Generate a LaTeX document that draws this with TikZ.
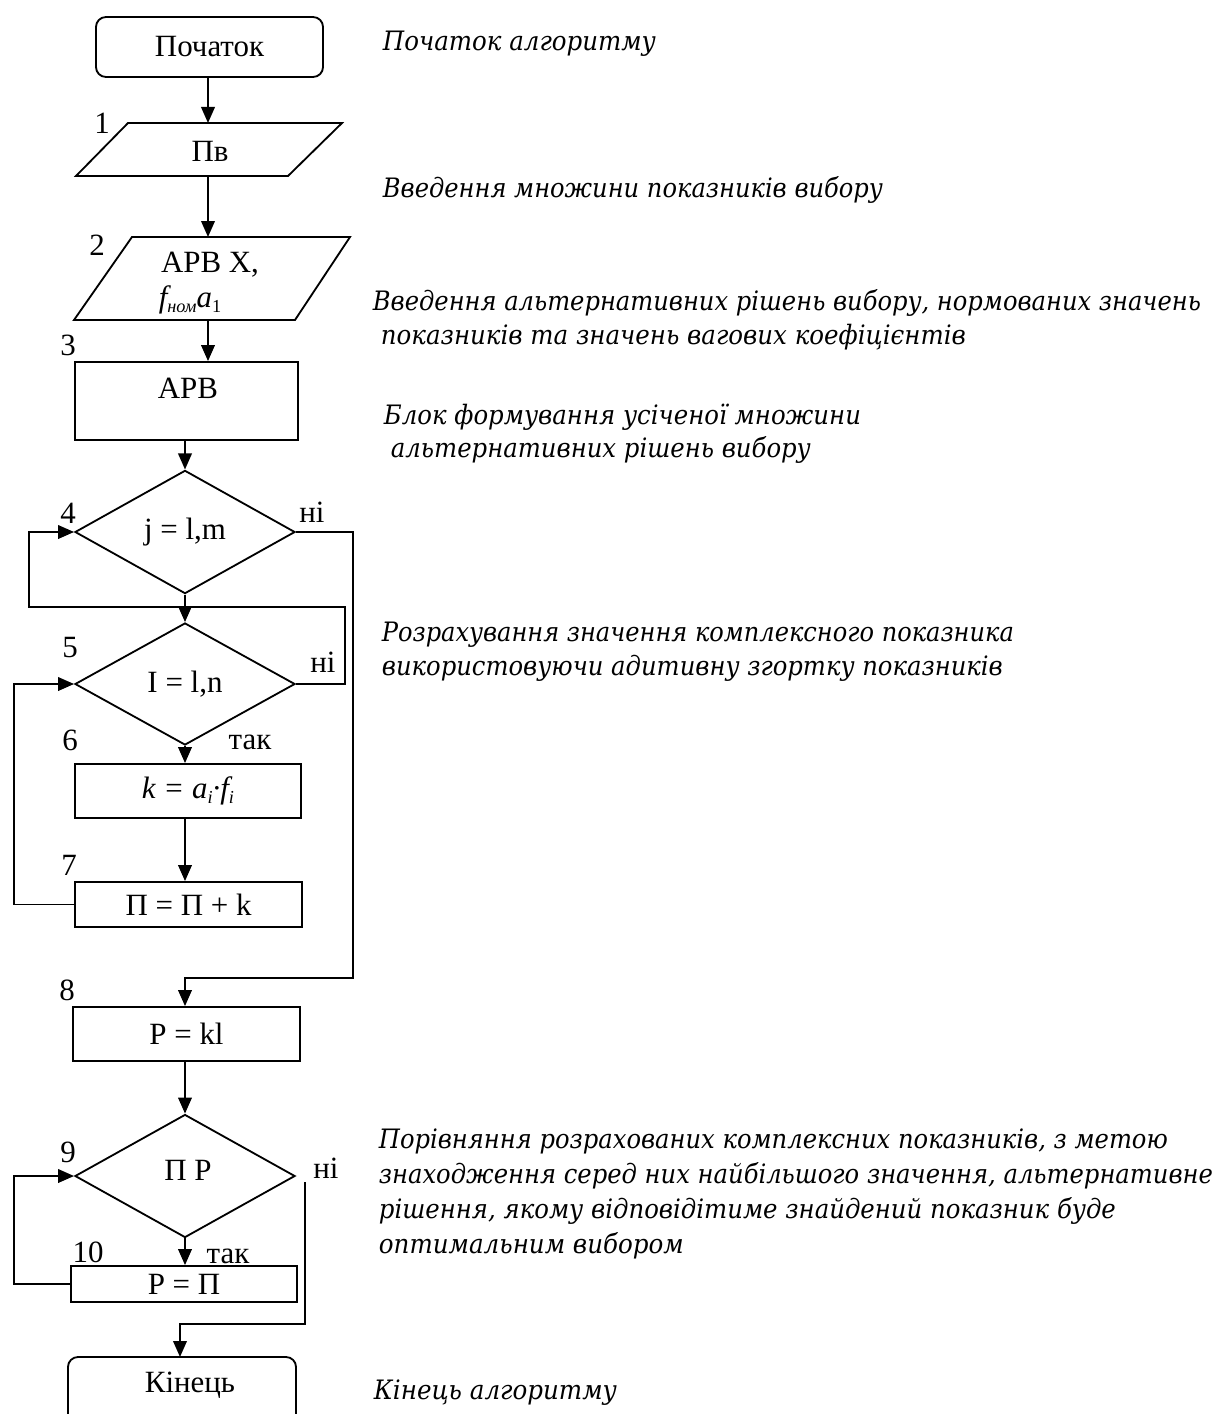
\documentclass[tikz,border=0pt]{standalone}
\usepackage{fontspec}
\setmainfont{Liberation Serif}
\newfontfamily\notefont{DejaVu Serif}
\usepackage{graphicx}
\usetikzlibrary{shapes.geometric,arrows.meta,calc}
\newlength\pxu
\setlength\pxu{0.025cm}
\newcommand\fitw[2]{\resizebox{#1\pxu}{\height}{#2}}
\newcommand\sbs[1]{\raisebox{-0.35ex}{\fontsize{13pt}{14pt}\selectfont #1}}
\begin{document}
\begin{tikzpicture}[x=0.025cm,y=-0.025cm, line width=1.3pt,
  every node/.style={font=\fontsize{22pt}{25pt}\selectfont, inner sep=0pt},
  arr/.style={-{Triangle[length=0.4cm,width=0.34cm]}},
  blk/.style={draw, rectangle, inner sep=0pt},
  term/.style={draw, rectangle, rounded corners=0.25cm, inner sep=0pt},
  dec/.style={draw, diamond, inner sep=0pt, minimum width=5.5cm, minimum height=3.08cm},
  note/.style={anchor=base west, inner sep=0pt, font=\fontsize{19pt}{22pt}\selectfont\notefont\itshape},
]
\useasboundingbox (0,0) rectangle (1215,1414);
\clip (0,0) rectangle (1215,1414);

% start
\node[term, minimum width=5.675cm, minimum height=1.5cm] (start) at (209.5,47) {Початок};

% block 1 (input)
\draw (128,123) -- (342,123) -- (288,176) -- (76,176) -- cycle;
\node (pv) at (210,151) {Пв};
\coordinate (p1n) at (208,123);
\coordinate (p1s) at (208,176);

% block 2 (input)
\draw (132,237) -- (350,237) -- (295,320) -- (74,320) -- cycle;
\node (arvx) at (210,265) {АРВ Х,};
\node (fnom) at (190,300) {{\itshape f}\sbs{\itshape ном}{\itshape a}\sbs{1}};
\coordinate (p2n) at (208,237);
\coordinate (p2s) at (208,320);

% block 3
\node[blk, minimum width=5.575cm, minimum height=1.95cm] (r3) at (186.5,401) {};
\node (t3) at (188,388) {АРВ};

% decisions and blocks
\node[dec] (d4) at (185,532) {j = l,m};
\node[dec, minimum height=3.05cm] (d5) at (185,684) {I = l,n};
\node[blk, minimum width=5.65cm, minimum height=1.35cm] (r6) at (188,791)
  {{\itshape k = a}\sbs{\itshape i}{\itshape ·f}\sbs{\itshape i}};
\node[blk, minimum width=5.675cm, minimum height=1.125cm] (r7) at (188.5,904.5) {П = П + k};
\node[blk, minimum width=5.675cm, minimum height=1.35cm] (r8) at (186.5,1034) {P = kl};
\node[dec, minimum height=3.075cm] (d9) at (185,1176) {};
\node (t9) at (188,1170) {П Р};
\node[blk, minimum width=5.65cm, minimum height=0.9cm] (r10) at (184,1284) {P = П};
\node[term, minimum width=5.7cm, minimum height=1.9cm] (end) at (182,1395) {};
\node (tend) at (190,1385) {Кінець};

% numbers
\node (n1) at (102,123) {1};
\node (n2) at (97,245) {2};
\node (n3) at (68,345) {3};
\node (n4) at (68,513) {4};
\node (n5) at (70,648) {5};
\node (n6) at (70,740) {6};
\node (n7) at (69,865) {7};
\node (n8) at (67,990) {8};
\node (n9) at (68,1152) {9};
\node (n10) at (88,1252) {10};

% branch labels
\node (ni4) at (312,512) {ні};
\node (ni5) at (323,662) {ні};
\node (tak5) at (250,742) {так};
\node (ni9) at (326,1168) {ні};
\node (tak9) at (228,1256) {так};

% connectors
\draw[arr] (start.south -| p1n) -- (p1n);
\draw[arr] (p1s) -- (p2n);
\draw[arr] (p2s) -- (p2s |- r3.north);
\draw[arr] (d4.north |- r3.south) -- (d4.north);
\draw[arr] (d4.south) -- (d5.north);
\draw[arr] (d5.east) -- (345,684) |- (29,607) |- (d4.west);
\draw[arr] (d4.east) -- (353,532) -- (353,978) -| (r8.north -| d4.south);
\draw[arr] (d5.south) -- (d5.south |- r6.north);
\draw[arr] (r6.south -| d4.south) -- (r7.north -| d4.south);
\draw[arr] (r7.west) -| (14,684) -- (d5.west);
\draw[arr] (r8.south -| d4.south) -- (d9.north);
\draw[arr] (d9.south) -- (d9.south |- r10.north);
\draw[arr] (r10.west) -| (14,1176) -- (d9.west);
\coordinate (ni9s) at (305,1182);
\draw[arr] (ni9s) -- (305,1324) -| (180,1357);

% notes
\node[note] (c1) at (382,50) {\fitw{273}{Початок алгоритму}};
\node[note] (c2) at (382,197) {\fitw{500}{Введення множини показників вибору}};
\node[note] (c3a) at (372,310) {\fitw{828}{Введення альтернативних рішень вибору, нормованих значень}};
\node[note] (c3b) at (380,344) {\fitw{585}{показників та значень вагових коефіцієнтів}};
\node[note] (c4a) at (383,424) {\fitw{477}{Блок формування усіченої множини}};
\node[note] (c4b) at (390,457) {\fitw{420}{альтернативних рішень вибору}};
\node[note] (c5a) at (381,641) {\fitw{632}{Розрахування значення комплексного показника}};
\node[note] (c5b) at (381,675) {\fitw{621}{використовуючи адитивну згортку показників}};
\node[note] (c6a) at (378,1148) {\fitw{789}{Порівняння розрахованих комплексних показників, з метою}};
\node[note] (c6b) at (378,1183) {\fitw{834}{знаходження серед них найбільшого значення, альтернативне}};
\node[note] (c6c) at (378,1218) {\fitw{737}{рішення, якому відповідітиме знайдений показник буде}};
\node[note] (c6d) at (378,1253) {\fitw{305}{оптимальним вибором}};
\node[note] (c7) at (373,1399) {\fitw{243}{Кінець алгоритму}};
\end{tikzpicture}
\end{document}
